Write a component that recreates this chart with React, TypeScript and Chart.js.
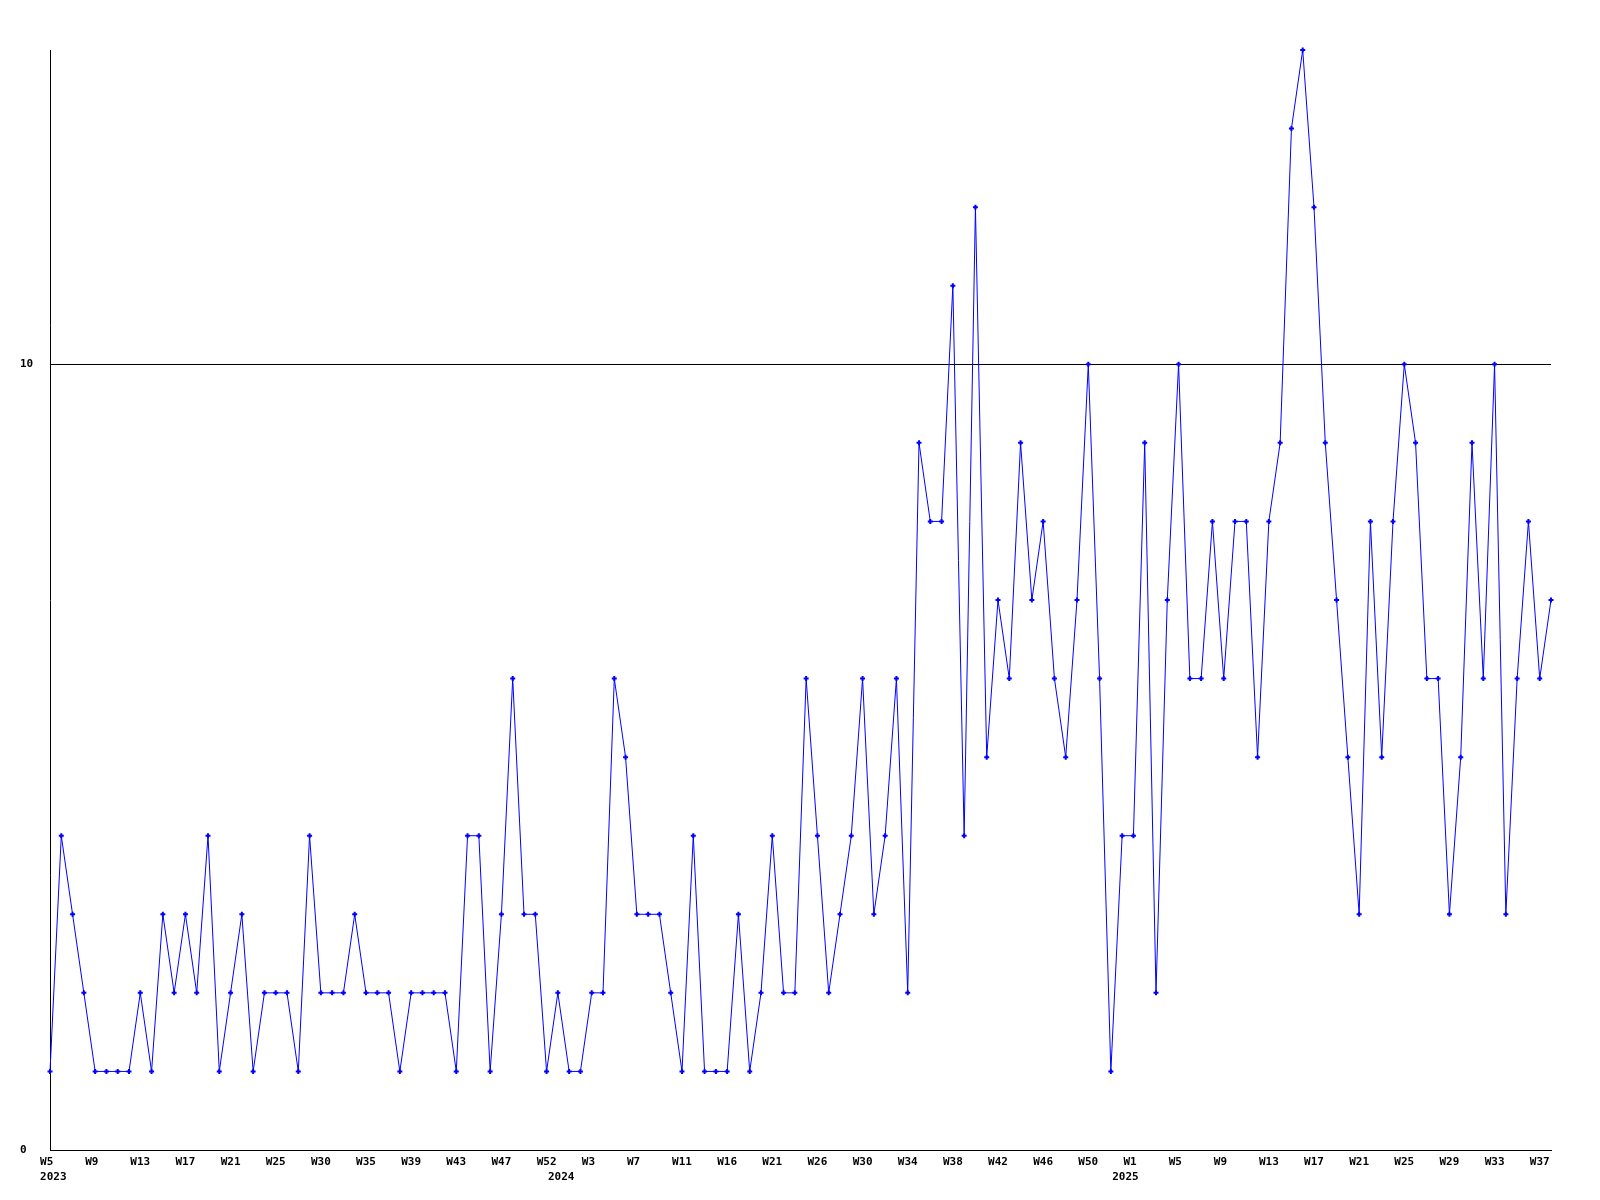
import { useEffect, useRef } from "react";
import { Chart, registerables } from "chart.js";

Chart.register(...registerables);

// Week numbers per year (categorical x axis, one point per listed week)
const weeks2023 = [
  5, 6, 7, 8, 9, 10, 11, 12, 13, 14, 15, 16, 17, 18, 19, 20, 21, 22, 23, 24, 25,
  26, 28, 29, 30, 31, 32, 34, 35, 36, 37, 38, 39, 40, 41, 42, 43, 44, 45, 46, 47,
  48, 49, 51, 52,
];
const weeks2024 = [
  0, 1, 2, 3, 4, 5, 6, 7, 8, 9, 10, 11, 12, 13, 15, 16, 17, 18, 20, 21, 22, 23,
  25, 26, 27, 28, 29, 30, 31, 32, 33, 34, 35, 36, 37, 38, 39, 40, 41, 42, 43, 44,
  45, 46, 47, 48, 49, 50, 51, 52,
];
const weeks2025 = [
  0, 1, 2, 3, 4, 5, 6, 7, 8, 9, 10, 11, 12, 13, 14, 15, 16, 17, 18, 19, 20, 21,
  22, 23, 24, 25, 26, 27, 28, 29, 30, 31, 32, 33, 34, 35, 36, 37, 38,
];

// Values per week
const counts2023 = [
  1, 4, 3, 2, 1, 1, 1, 1, 2, 1, 3, 2, 3, 2, 4, 1, 2, 3, 1, 2, 2, 2, 1, 4, 2, 2,
  2, 3, 2, 2, 2, 1, 2, 2, 2, 2, 1, 4, 4, 1, 3, 6, 3, 3, 1,
];
const counts2024 = [
  2, 1, 1, 2, 2, 6, 5, 3, 3, 3, 2, 1, 4, 1, 1, 1, 3, 1, 2, 4, 2, 2, 6, 4, 2, 3,
  4, 6, 3, 4, 6, 2, 9, 8, 8, 11, 4, 12, 5, 7, 6, 9, 7, 8, 6, 5, 7, 10, 6, 1,
];
const counts2025 = [
  4, 4, 9, 2, 7, 10, 6, 6, 8, 6, 8, 8, 5, 8, 9, 13, 14, 12, 9, 7, 5, 3, 8, 5, 8,
  10, 9, 6, 6, 3, 5, 9, 6, 10, 3, 6, 8, 6, 7,
];

const yTickValues = [0, 10];
const yMin = 0;
const yMax = 14;

type Cat = { year: number; week: number };
const categories: Cat[] = [
  ...weeks2023.map((w) => ({ year: 2023, week: w })),
  ...weeks2024.map((w) => ({ year: 2024, week: w })),
  ...weeks2025.map((w) => ({ year: 2025, week: w })),
];
const values = [...counts2023, ...counts2024, ...counts2025];

const FONT = "'DejaVu Sans Mono', 'Liberation Mono', monospace";

export default function App() {
  const ref = useRef<HTMLCanvasElement | null>(null);

  useEffect(() => {
    document.body.style.margin = "0";
    const canvas = ref.current;
    if (!canvas) return;

    const labels = categories.map((c) => `${c.year}-W${c.week}`);

    const chart = new Chart(canvas, {
      type: "line",
      data: {
        labels,
        datasets: [
          {
            data: values,
            borderColor: "#0000ff",
            backgroundColor: "#0000ff",
            borderWidth: 1,
            tension: 0,
            fill: false,
            pointStyle: "cross",
            pointRadius: 2.5,
            pointBorderWidth: 2,
            pointBorderColor: "#0000ff",
            pointHoverRadius: 2.5,
            clip: false as any,
          },
        ],
      },
      options: {
        responsive: false,
        animation: false,
        devicePixelRatio: 1,
        events: [],
        layout: { padding: { left: 20, top: 50, right: 49, bottom: 0 } },
        plugins: {
          legend: { display: false },
          tooltip: { enabled: false },
          title: { display: false },
        },
        scales: {
          x: {
            type: "category",
            grid: { display: false, drawTicks: false },
            border: { display: true, color: "#000000", width: 1 },
            ticks: {
              autoSkip: false,
              maxRotation: 0,
              minRotation: 0,
              padding: 5,
              color: "#000000",
              font: { family: FONT, size: 11, weight: "bold", lineHeight: 15 / 11 },
              callback: (_v: any, index: number) => {
                const c = categories[index];
                if (!c) return "";
                const firstOfYear =
                  index === 0 || categories[index - 1].year !== c.year;
                const showWeek = index % 4 === 0;
                const wk = showWeek ? `W${c.week}`.padEnd(3, " ") : "";
                if (firstOfYear) return [wk, ` ${c.year}`];
                return wk;
              },
            },
            afterFit: (s: any) => {
              s.height = 50;
              s.paddingLeft = 0;
              s.paddingRight = 0;
            },
          },
          y: {
            type: "linear",
            min: yMin,
            max: yMax,
            grid: { display: true, color: "#000000", lineWidth: 1, drawTicks: false },
            border: { display: true, color: "#000000", width: 1 },
            afterBuildTicks: (s: any) => {
              s.ticks = yTickValues.map((v) => ({ value: v }));
            },
            ticks: {
              crossAlign: "far",
              padding: 0,
              color: "#000000",
              font: { family: FONT, size: 11, weight: "bold" },
              callback: (v: any) => String(v),
            },
            afterFit: (s: any) => {
              s.width = 30;
              s.paddingTop = 0;
              s.paddingBottom = 0;
            },
          },
        },
      },
    });

    return () => chart.destroy();
  }, []);

  return (
    <canvas
      ref={ref}
      width={1600}
      height={1200}
      style={{ display: "block", width: 1600, height: 1200, background: "#ffffff" }}
    />
  );
}
